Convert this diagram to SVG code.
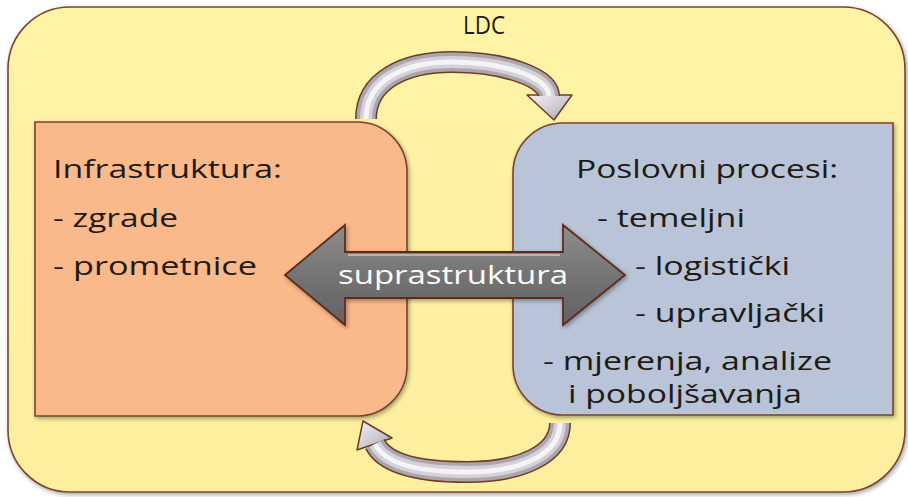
<svg xmlns="http://www.w3.org/2000/svg" width="908" height="497" viewBox="0 0 908 497">
<style>
  .t { font-family: "Open Sans", "Liberation Sans", sans-serif; fill: #1e1a16; font-size: 26px; }
  .w { font-family: "Open Sans", "Liberation Sans", sans-serif; fill: #ffffff; font-size: 25px; }
  .box { stroke: #7a4330; stroke-width: 1.6; }
  .tube-o { fill: none; stroke: #6e3b26; stroke-width: 22; }
  .tube-1 { fill: none; stroke: #a9a6ae; stroke-width: 19; }
  .tube-2 { fill: none; stroke: #d4d2d8; stroke-width: 12; }
  .tube-3 { fill: none; stroke: #f4f3f6; stroke-width: 5; }
  .head { fill: url(#silver); stroke: #6e3b26; stroke-width: 1.5; stroke-linejoin: round; }
</style>
<defs>
  <filter id="sh" x="-5%" y="-5%" width="110%" height="110%">
    <feDropShadow dx="1.5" dy="2" stdDeviation="2" flood-color="#000" flood-opacity="0.35"/>
  </filter>
  <linearGradient id="silver" x1="0" y1="0" x2="1" y2="1">
    <stop offset="0" stop-color="#f3f2f5"/>
    <stop offset="0.6" stop-color="#c9c7cd"/>
    <stop offset="1" stop-color="#9e9ba3"/>
  </linearGradient>
  <linearGradient id="gray" x1="0" y1="0" x2="0" y2="1">
    <stop offset="0" stop-color="#8e8e8e"/>
    <stop offset="0.5" stop-color="#747474"/>
    <stop offset="1" stop-color="#626262"/>
  </linearGradient>
  <linearGradient id="yel" x1="0" y1="0" x2="0" y2="1">
    <stop offset="0" stop-color="#fff3a6"/>
    <stop offset="1" stop-color="#fdef9e"/>
  </linearGradient>
</defs>

<g id="ldc">
  <rect x="8" y="7" width="897" height="485" rx="62" ry="62" fill="url(#yel)" class="box" filter="url(#sh)"/>
  <text class="t" x="463" y="34" font-size="22" textLength="42" lengthAdjust="spacingAndGlyphs">LDC</text>
</g>

<g id="infrastruktura">
  <path d="M35,122 H357 A50,50 0 0 1 407,172 V366 A50,50 0 0 1 357,416 H35 Z" fill="#fab98a" class="box" filter="url(#sh)"/>
  <text class="t" x="53" y="178" textLength="229" lengthAdjust="spacingAndGlyphs">Infrastruktura:</text>
  <text class="t" x="53" y="227" textLength="125" lengthAdjust="spacingAndGlyphs">- zgrade</text>
  <text class="t" x="53" y="275" textLength="204" lengthAdjust="spacingAndGlyphs">- prometnice</text>
</g>

<g id="poslovni-procesi">
  <path d="M563,123 H893 V415 H563 A50,50 0 0 1 513,365 V173 A50,50 0 0 1 563,123 Z" fill="#b9c4d8" class="box" filter="url(#sh)"/>
  <text class="t" x="576" y="178" textLength="262" lengthAdjust="spacingAndGlyphs">Poslovni procesi:</text>
  <text class="t" x="597" y="227" textLength="148" lengthAdjust="spacingAndGlyphs">- temeljni</text>
  <text class="t" x="635" y="275" textLength="155" lengthAdjust="spacingAndGlyphs">- logistički</text>
  <text class="t" x="635" y="322" textLength="190" lengthAdjust="spacingAndGlyphs">- upravljački</text>
  <text class="t" x="543" y="370" textLength="289" lengthAdjust="spacingAndGlyphs">- mjerenja, analize</text>
  <text class="t" x="568" y="403" textLength="234" lengthAdjust="spacingAndGlyphs">i poboljšavanja</text>
</g>

<g id="connectors">
  <!-- top curved arrow -->
  <g id="arrow-top">
    <polygon class="head" points="527,95 572,95 554,120"/>
    <path class="tube-o" d="M366,119 C366,80 405,62 452,62 C505,62 549,78 549,96"/>
    <path class="tube-1" d="M366,119 C366,80 405,62 452,62 C505,62 549,78 549,96"/>
    <path class="tube-2" d="M366,119 C366,80 405,62 452,62 C505,62 549,78 549,96"/>
    <path class="tube-3" d="M366,119 C366,80 405,62 452,62 C505,62 549,78 549,96"/>
  </g>
  <!-- bottom curved arrow -->
  <g id="arrow-bottom">
    <polygon class="head" points="357,450 392,438 363,421"/>
    <path class="tube-o" d="M560,423 C560,455 520,472 467,472 C425,472 386,466 375,444"/>
    <path class="tube-1" d="M560,423 C560,455 520,472 467,472 C425,472 386,466 375,444"/>
    <path class="tube-2" d="M560,423 C560,455 520,472 467,472 C425,472 386,466 375,444"/>
    <path class="tube-3" d="M560,423 C560,455 520,472 467,472 C425,472 386,466 375,444"/>
  </g>
  <!-- double arrow -->
  <g id="suprastruktura">
    <polygon points="285,275 345,225 345,252 563,252 563,225 625,275 563,325 563,298 345,298 345,325" fill="url(#gray)" stroke="#5e2c1e" stroke-width="1.8" stroke-linejoin="miter" filter="url(#sh)"/>
    <line x1="348" y1="255" x2="560" y2="255" stroke="#b4b4b4" stroke-width="2"/>
    <text class="w" x="338" y="284" textLength="230" lengthAdjust="spacingAndGlyphs">suprastruktura</text>
  </g>
</g>
</svg>
